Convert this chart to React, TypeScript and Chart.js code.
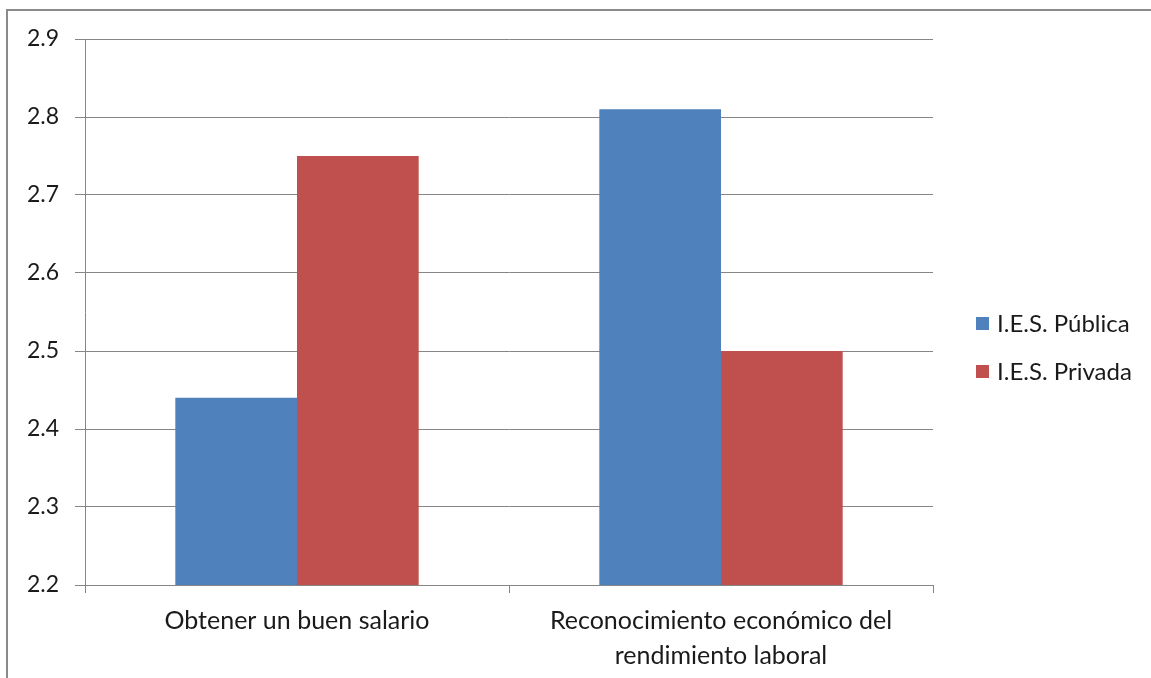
import React, { useEffect, useRef } from "react";
import { Chart, registerables } from "chart.js";

Chart.register(...registerables);

const categories: (string | string[])[] = [
  "Obtener un buen salario",
  ["Reconocimiento económico del", "rendimiento laboral"],
];
const seriesNames = ["I.E.S. Pública", "I.E.S. Privada"];
const publicaValues = [2.44, 2.81];
const privadaValues = [2.75, 2.5];
const seriesColors = ["#4F81BD", "#C0504D"];
const yMin = 2.2;
const yMax = 2.9;
const yStep = 0.1;

const FONT = "Lato, 'Open Sans', sans-serif";
const AXIS_GRAY = "#868686";

// Frame around the chart (top and left edges) drawn behind everything.
const framePlugin = {
  id: "frame",
  beforeDraw(chart: any) {
    const ctx = chart.ctx;
    ctx.save();
    ctx.fillStyle = "#ffffff";
    ctx.fillRect(0, 0, chart.width, chart.height);
    ctx.fillStyle = "#8a8a8a";
    ctx.fillRect(6, 9, chart.width - 6, 2);
    ctx.fillRect(6, 9, 2, chart.height - 9);
    ctx.restore();
  },
};

// Legend on the right: a small square and the series name for each dataset.
const sideLegendPlugin = {
  id: "sideLegend",
  afterDraw(chart: any) {
    const ctx = chart.ctx;
    const x = chart.chartArea.right + 43;
    const startY = 323;
    const gap = 48;
    ctx.save();
    ctx.font = `24px ${FONT}`;
    ctx.textBaseline = "middle";
    ctx.textAlign = "left";
    chart.data.datasets.forEach((ds: any, i: number) => {
      const cy = startY + i * gap;
      ctx.fillStyle = ds.backgroundColor;
      ctx.fillRect(x, cy - 6, 13, 13);
      ctx.fillStyle = "#1a1a1a";
      ctx.fillText(ds.label, x + 21, cy + 1);
    });
    ctx.restore();
  },
};

export default function App() {
  const canvasRef = useRef<HTMLCanvasElement | null>(null);

  useEffect(() => {
    if (!canvasRef.current) return;
    const chart = new Chart(canvasRef.current, {
      type: "bar",
      data: {
        labels: categories,
        datasets: [
          {
            label: seriesNames[0],
            data: publicaValues,
            backgroundColor: seriesColors[0],
            barPercentage: 1,
            categoryPercentage: 0.574,
          },
          {
            label: seriesNames[1],
            data: privadaValues,
            backgroundColor: seriesColors[1],
            barPercentage: 1,
            categoryPercentage: 0.574,
          },
        ],
      },
      options: {
        animation: false,
        responsive: false,
        maintainAspectRatio: false,
        layout: { padding: { left: 0, right: 218, top: 39, bottom: 0 } },
        plugins: {
          legend: { display: false },
          tooltip: { enabled: false },
        },
        scales: {
          x: {
            grid: {
              offset: true,
              drawOnChartArea: false,
              color: AXIS_GRAY,
              tickLength: 8,
            },
            border: { color: AXIS_GRAY, width: 1 },
            ticks: {
              color: "#1a1a1a",
              font: { family: FONT, size: 25, lineHeight: "35px" },
              padding: 10,
              maxRotation: 0,
              autoSkip: false,
            },
            afterFit(scale: any) {
              scale.height = 93;
            },
          },
          y: {
            min: yMin,
            max: yMax,
            grid: { color: AXIS_GRAY, tickLength: 10 },
            border: { color: AXIS_GRAY, width: 1 },
            ticks: {
              stepSize: yStep,
              color: "#1a1a1a",
              font: { family: FONT, size: 23 },
              padding: 16,
              callback: (v: any) => Number(v).toFixed(1),
            },
            afterFit(scale: any) {
              scale.width = 85;
            },
          },
        },
      },
      plugins: [framePlugin, sideLegendPlugin],
    });
    return () => chart.destroy();
  }, []);

  return (
    <div style={{ position: "fixed", left: 0, top: 0, width: 1151, height: 678 }}>
      <canvas ref={canvasRef} width={1151} height={678} style={{ width: 1151, height: 678, display: "block" }} />
    </div>
  );
}
